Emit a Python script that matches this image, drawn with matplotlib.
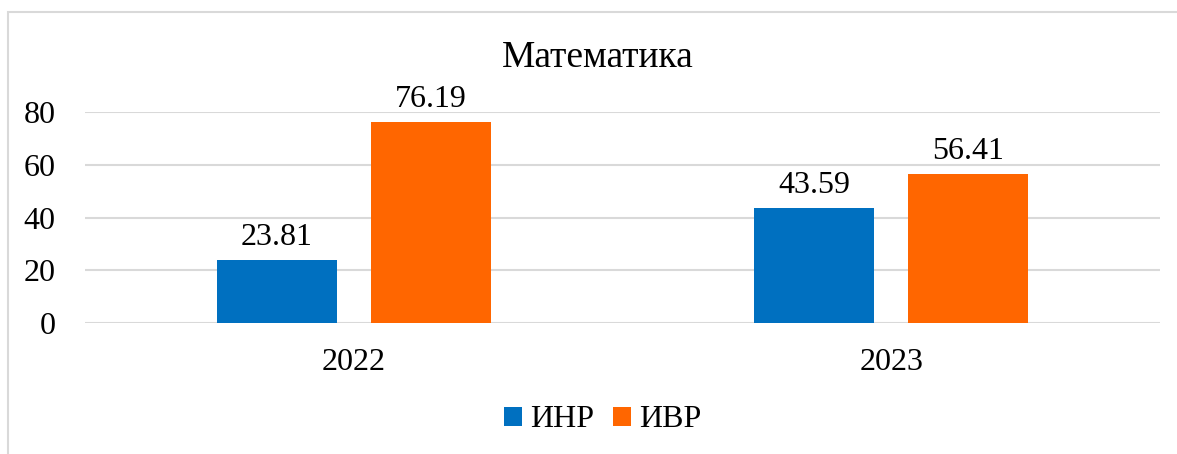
import numpy as np
import matplotlib.pyplot as plt
from matplotlib.patches import Rectangle

# Data
years = ["2022", "2023"]
inr_values = [23.81, 43.59]
ivr_values = [76.19, 56.41]
series_names = ["ИНР", "ИВР"]
title = "Математика"


def main() -> None:
    plt.rcParams["font.family"] = ["Liberation Serif", "DejaVu Serif"]

    fig = plt.figure(figsize=(11.77, 4.54), dpi=100)
    ax = fig.add_axes([0.0722, 0.2885, 0.9134, 0.4648])

    x = np.arange(len(years))
    width = 0.223
    gap = 0.063
    offset = (width + gap) / 2

    bars1 = ax.bar(x - offset, inr_values, width, color="#0070C0", label=series_names[0], zorder=3)
    bars2 = ax.bar(x + offset, ivr_values, width, color="#FF6600", label=series_names[1], zorder=3)

    for bars in (bars1, bars2):
        for b in bars:
            ax.text(b.get_x() + b.get_width() / 2, b.get_height() + 3,
                    f"{b.get_height():.2f}", ha="center", va="bottom", fontsize=23)

    ax.set_xlim(-0.5, 1.5)
    ax.set_ylim(0, 80)
    ax.set_yticks([0, 20, 40, 60, 80])
    ax.set_xticks(x)
    ax.set_xticklabels(years)
    ax.tick_params(axis="both", length=0, labelsize=23)
    ax.tick_params(axis="x", pad=18)
    ax.tick_params(axis="y", pad=21)
    ax.grid(axis="y", color="#D9D9D9", linewidth=1.5, zorder=0)
    for s in ax.spines.values():
        s.set_visible(False)

    fig.text(0.508, 0.873, title, ha="center", va="center", fontsize=27)

    fig.legend(loc="center", bbox_to_anchor=(0.512, 0.075), ncol=2, frameon=False,
               fontsize=23, handlelength=0.55, handleheight=0.55, handletextpad=0.25,
               columnspacing=0.6)

    # chart border (extends past right and bottom of image)
    border = Rectangle((8 / 1177, -0.1), 1.2, 0.1 + (454 - 12) / 454,
                       transform=fig.transFigure, fill=False,
                       edgecolor="#D9D9D9", linewidth=1.5, clip_on=False)
    fig.add_artist(border)

    fig.savefig("out.png", dpi=100)


if __name__ == "__main__":
    main()
